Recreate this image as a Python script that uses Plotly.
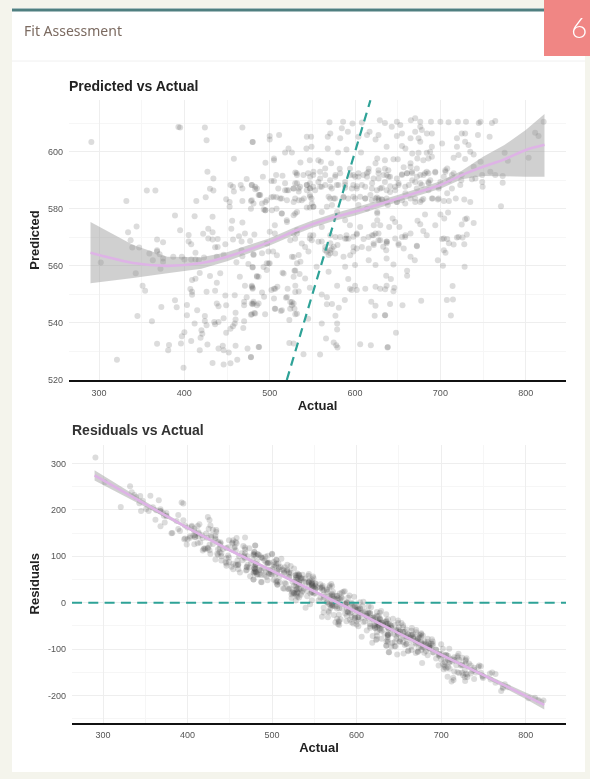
import plotly.graph_objects as go

actual = [
291,393,395,424,468,426,480,458,427,434,356,366,332,414,425,430,434,449,453,453,454,457,458,466,468,473,479,483,468,478,481,478,487,
389,412,433,456,468,344,334,395,428,433,455,405,422,471,464,482,337,368,375,405,408,428,433,439,448,457,467,339,347,436,439,368,477,
359,368,371,375,375,363,387,397,400,408,413,413,417,423,438,446,461,467,468,475,481,480,302,343,372,418,430,442,465,485,409,413,438,471,479,480,351,354,407,409,409,426,436,448,459,473,470,470,481,480,487,389,373,391,403,415,438,440,449,460,478,482,345,403,424,424,426,446,362,412,435,440,436,460,459,457,454,470,469,420,421,419,449,400,397,368,382,381,396,408,427,418,440,445,446,452,460,474,487,478,462,321,433,446,454,399,
480,500,500,511,543.5,548.5,570,586,597,608,617,629,635,584.5,591.6,571,568,582.6,604,614,624,627.5,522,518,526,543,549,568,580,590,607,505,505,495,536,547,557,560,572,626,624,635,582,594,616,614,627.5,635,492,507.5,515,530,545,551,559,565,502,505,518,510,532,534,534,543.5,547,547,551,557,561,571,577,580.6,588.4,598,604,598,602,608,614,620,627.5,635,629.5,637,479,485,522,518,543.5,547,549,565,569,575,586.5,592,598,606,612,618,624,627.5,631.5,488,479,495,491,502,508,514,508,495,493,534,528,540,547,551,543.5,567,561,579,573,604,614,626,514,520,528,532,506,500,506,528,532,561,551,588.4,594,606,626,626,622,629.5,571,577,590,602,620,624,
547,561,571,575,565,571,579.4,590,598,610,622,633,627.5,637,602,616,491,498.5,504,481,496.5,500,526,534,536,532,545.4,569,586.5,571,598,616,600,624,588.4,480,555,496.5,515,529,535,528,541.5,569,592,485,487,479,480,509,505,502,521,530,534,547,579,594,600,602,612,624,629.5,637,596,491,493.4,505,519,485,481,479,561,567,588,528,526,567,573,581,619,624,506,513,524,529,494.6,483,479,530,545,523,577,623,635,561,579,579,566,523,528,575,578,579.4,606,618.5,638,487.6,539.6,559,478,
649,653,665.4,670.5,676.4,689,700,709.6,720.5,730,745,747,760.4,764.3,821,811,815,643,655,649,665,676.4,678.3,670.5,684.2,690,674.4,676.4,719.4,725,729,744,757.7,702,690,719.4,729,733,637,655,659,735,739,667,674.4,684,688,690,680,673,665,686,645,650,715.5,721.3,729,747,775.3,779,803.4,657,665,672.4,694,708,684,739,639,637,641,655,661,667,676.4,682,686,715.5,706,704,725,741,749,758.5,764.3,773,651,647,663,667,676.4,686,700,710,724.5,737,749,749.5,773,641,647,659,672.4,686,698,713.5,723.3,708,637,655,665,680,691,697,704,710,718,728,735,670.5,676.4,649,638.4,771,682,700,709,704.5,644,647,673.2,676.4,731,729,739,694,725,640,652,680,684,659,665,704,721.3,731,655,647,
637,651,657,672.4,702,708,710,715.5,719.4,726,728,704,706,636.5,637,665,670,697,703,728.4,645,661,661,636.5,642,714.3,646,645,635.3,677.5,707.6,714.7,641,655.6,635.3,712.3,648,638.4,
531.7,539.5,547.4,551.3,559.1,565,570.8,576.7,582.6,588.4,594.3,600.1,604,609.9,615.8,621.7,627.5,633.4,639.2,649,654.9,660.8,666.6,672.5,680.3,688.1,694,705.7,713.5,
527.8,535.6,543.5,547.4,553.2,559.1,572.8,578.6,588.4,596.2,602.1,611.9,619.7,625.6,631.4,641.2,651,658.8,670.5,678.3,686.2,697.9,
529.8,537.6,547.4,549.3,551.3,570.8,576.7,586.5,600.1,611.9,619.7,625.6,627.5,631.4,637.3,649,658.8,670.5,678.3,690,697.9,
529.8,537.6,541.5,547.4,549.3,557.1,565,566.9,572.8,576.7,582.6,588.4,594.3,592.3,602.1,598.2,608,615.8,621.7,627.5,629.5,621.7,637.3,651,658.8,672.5,
483,488.9,496.7,504.5,512.3,520.2,528,531.9,529.9,520.2,494.7,502.6,514.3,520.2,529.9,531.9,524.1,496.7,508.4,498.7,492.8,506.5,520.2,529.9,526,531.9,506.5,514.3,524.1,529.9,516.3,528,
]
predicted = [
603.4,608.6,608.5,608.5,608.5,604,603.4,597.5,593,590.6,586.4,586.4,582.7,582.7,584,587,586.4,583.3,582.4,580.7,588.3,587.7,586,588.3,587.1,590.4,588.3,586.8,582.7,582.7,581.8,580,584.8,
577.6,577.4,577.2,575.8,575.2,573.8,571.8,572.5,573,571.8,573,570.8,571.2,571.3,570.4,571,569,569.2,568.3,568.5,567.6,569.6,569.2,569.4,567.6,569.2,568.5,566.4,566.4,566.5,566.6,565.5,568.7,
564.3,565,564.1,562.6,561.4,562,563.2,563.2,562.2,562.2,564.6,562.2,562,562.9,563.2,563.9,561.3,565.5,563.4,560.6,564.1,559.6,561.2,557.4,559,557.5,556.4,557.4,556.2,556.4,555,555.5,554.1,553,553,552,553,551.3,551.9,550.9,549.9,550.9,551.3,549.6,549.7,549,547.4,546.2,547.4,546.5,546.8,547.9,545.6,545.5,546.3,544.4,546.8,545.8,546.2,543.6,542.9,543.5,542.4,542.7,542.4,540.7,539.2,541.6,540.6,539.8,540.3,540.3,539.5,541.2,539.8,538.8,538,540.6,538.2,537.4,536.2,534.8,536.6,536.7,535.3,532.7,532.3,530.4,532.8,533.7,532.4,530.4,531,532,530.4,529.6,532,531,531.6,528,527.1,527.1,526,525.4,525.9,524.3,
603.4,605.5,604.3,605.8,605.2,605.2,610.3,610.5,609.9,610.2,607,611,610,608.2,607,606.4,605.2,604.7,605.2,605.8,604.3,605.8,601.1,599.7,599.7,601.1,601.7,601.1,599.7,600.8,599.7,597,597.6,596.1,596.2,597,597,596.5,595.9,597.6,595.9,597,594,594,594,592.4,593.5,594,591.2,591.8,591.6,592.7,592.4,591.8,593,594.1,589.7,589.7,588.9,587.1,588.9,587.1,586,588.3,588.9,587.1,587.7,589.4,587.7,587.7,591.8,588.3,588.3,591.8,591.2,588.3,587.1,588.3,591.2,588.9,590.6,589.4,587.1,586.5,588.3,587.1,586.5,586.5,586.5,584.8,583.6,588.3,584.2,583.6,584.2,583.6,584.2,584.2,583.6,584.8,583.6,583.6,583.2,584.8,583,582.4,581.8,584,584,583.6,580,579.5,579.7,583,582.4,583.6,580.4,580.7,580.4,580.7,578.9,578.9,581.3,581.3,580,578.9,578.3,576,577.7,578.9,574.2,571.9,571.3,571.3,572.5,573.6,570.7,576,574.2,573.6,578.3,576,574.2,574.2,570.7,570.1,570.7,571,570.7,571.3,
569.6,568.5,567.9,566.7,565.5,565.5,567.3,569.6,570.2,569.4,567.3,566.7,569,567.9,566.1,566.1,564.4,565,565,563.8,560.9,560.9,563.2,563.8,561.4,560.9,565,563.8,563.2,564.4,565,562,560.3,560.3,559.7,559.4,559.7,558.5,557.6,558.3,557.1,556.2,555.6,557.9,555.4,556.2,556.2,552.7,552.3,552.7,552,551.5,552,553,551,552.3,553,552,553,551.5,552,552.7,552,553,551.5,550.7,549.2,548.6,548.8,546.2,546.8,546.8,550,549,548,546.8,546.2,546.5,546.6,545.3,547.4,546,545,544.2,545,545,543,543.3,543,543,541.5,541,542.5,542.5,542.7,539.8,539.8,537.7,534.5,533,532.8,533.1,532.2,531.4,532.5,532.2,531.4,531.6,529,528.9,528.1,
610.5,609.3,611,611.7,610.5,610.5,610.5,610.3,610.5,610.5,610,610.5,610,610.7,610.5,606.6,605.5,608.7,606.4,605.5,604.7,608.7,607.6,607,606.4,606.4,604.7,603.5,604.7,606.4,606.4,605.8,605.2,602.9,601.7,601.7,603.5,602.3,601.7,602,601.1,600,599,599.4,599.6,599.6,600,598.2,597,597.6,595.9,597.6,597.3,597.3,597.9,598.8,597.4,596.5,599.6,596.8,597.9,594.5,594.7,594.1,592.7,594.1,593,594.7,593.5,591.8,591.2,592.1,592.4,592.4,591.8,592.4,592.4,592.4,593,591.2,591.8,590.6,591.8,593,591.8,591.5,588.9,587.7,588.3,590,588.9,589.4,589.4,590,590,590.3,589.4,587.7,589.1,585.9,586.5,585.4,587.1,586.5,587.1,587.1,588.3,585.4,583.6,583,583.6,583.4,583.6,583.2,582.7,582.7,583.6,583.2,582.4,583.6,582.4,582.4,581.3,580.9,578,578,578.7,576.6,576.6,575.4,575.8,574.6,576.6,576.3,575,574.2,574.5,573.6,573.6,572.2,570.7,570.7,571.3,569.6,570.1,571,570.1,569.6,
568.5,567.3,566.1,567,569.4,569.4,567.9,567.5,569.9,569.9,567.6,565.5,564.6,565.5,562.6,563.2,562,562,560,559.7,560.5,558.3,556.5,556.5,555.4,552.9,552.3,551.1,551.8,547.8,548,548.2,546.6,546.2,542.7,542.6,536.6,531.6,
592.4,591.8,591.2,593,590.6,591.8,590,591.2,592.4,589.4,591.8,591.2,592.4,591.8,593,590.6,592.4,591.8,591.2,590.6,591.8,592.4,593,591.2,591.8,590,593,593.5,591.8,
587.1,587.7,588.3,587.1,586.5,587.7,587.1,588.3,587.4,587.1,587.9,587.7,587.1,586.5,587.4,587.9,588.3,587.7,589.4,588.3,588.9,587.7,
583.6,583,584.2,581.8,580.7,583.6,583.6,583.9,583.6,583.6,583,583.9,583,583.2,582.4,582.4,581.8,582.4,583,583.6,583.6,
569.5,567.8,566.6,570.7,569,568.4,566.6,564.9,566,564.3,570.1,569.5,563.7,569.5,571.3,566.6,566.6,570.1,570.7,571.3,569,567.8,568.4,567.8,570.1,566.9,
587.7,584.8,583,584.2,583.6,583,587.1,591.8,588.9,586.5,579.5,579.5,578.3,575.4,578.3,571.3,569,567.8,563.7,560.8,559.6,552,549.1,550.8,547.3,543.2,545,544.4,547.3,558.4,557.3,563.1,
]
n = min(len(actual), len(predicted))
actual, predicted = actual[:n], predicted[:n]
residuals = [p - a for p, a in zip(predicted, actual)]

# Smooth line and its band, upper panel
smooth_x = [290, 340, 380, 420, 450, 500, 530, 550, 575, 600, 650, 700, 725, 750, 775, 800, 822]
smooth_y = [564.6, 561, 560, 561, 563.2, 568.4, 572.3, 574.6, 577, 579, 583.6, 588.3, 591.8, 594.7, 597.3, 600.6, 602.4]
smooth_lo = [553.9, 555.7, 557.4, 559, 561.6, 567.1, 571, 573.3, 575.7, 577.6, 582.4, 587, 590.3, 591.5, 591.4, 591.2, 591.2]
smooth_hi = [575.4, 567.3, 563.2, 563, 564.8, 569.7, 573.6, 575.9, 578.3, 580.4, 584.8, 589.6, 593.3, 598.2, 602.3, 607.6, 613.2]

# Smooth line and its band, lower panel
resid_x = [290, 350, 400, 450, 500, 550, 600, 650, 700, 750, 800, 822]
resid_y = [274, 212, 161, 113, 69, 24, -20, -66, -112, -156, -200, -220]
resid_lo = [263, 206, 158, 110, 66, 21, -23, -69, -115, -160, -207, -230]
resid_hi = [285, 218, 164, 116, 72, 27, -17, -63, -109, -152, -193, -210]

identity = [520, 618]
zero_x = [263.3, 847.7]
zero_y = [0, 0]

x_ticks = [300, 400, 500, 600, 700, 800]
pred_ticks = [520, 540, 560, 580, 600]
resid_ticks = [-200, -100, 0, 100, 200, 300]
resid_tick_text = ["-200", "-100", "0", "100", "200", "300"]

W, H = 590, 779
VS = 1.0065  # vertical correction found by comparing renders with the reference
TEAL = "#2ea297"
MAUVE = "#deb3e6"
BAND = "rgba(150,150,150,0.45)"
DOT = dict(size=6, color="rgba(70,70,70,0.19)", line=dict(width=0))
GRID = "#eeeeee"
MINOR = "#f6f6f6"
TICKF = dict(family="Liberation Sans", size=9, color="#555555")
TITLEF = dict(family="Liberation Sans", size=13, color="#222222", weight="bold")


def py(v):
    return 1 - v * VS / H


def band(x, lo, hi, xa, ya):
    return go.Scatter(x=x + x[::-1], y=hi + lo[::-1], fill="toself", fillcolor=BAND, mode="none",
                      hoverinfo="skip", showlegend=False, xaxis=xa, yaxis=ya)


fig = go.Figure()
fig.add_trace(go.Scatter(x=actual, y=predicted, mode="markers", marker=DOT, showlegend=False, xaxis="x", yaxis="y"))
fig.add_trace(go.Scatter(x=identity, y=identity, mode="lines", showlegend=False, line=dict(color=TEAL, width=2.2, dash="9px,6px"), xaxis="x", yaxis="y"))
fig.add_trace(band(smooth_x, smooth_lo, smooth_hi, "x", "y"))
fig.add_trace(go.Scatter(x=smooth_x, y=smooth_y, mode="lines", showlegend=False, line=dict(color=MAUVE, width=2.6, shape="spline", smoothing=0.7), xaxis="x", yaxis="y"))

fig.add_trace(go.Scatter(x=actual, y=residuals, mode="markers", marker=DOT, showlegend=False, xaxis="x2", yaxis="y2"))
fig.add_trace(go.Scatter(x=zero_x, y=zero_y, mode="lines", showlegend=False, line=dict(color=TEAL, width=2.2, dash="10px,6.3px"), xaxis="x2", yaxis="y2"))
fig.add_trace(band(resid_x, resid_lo, resid_hi, "x2", "y2"))
fig.add_trace(go.Scatter(x=resid_x, y=resid_y, mode="lines", showlegend=False, line=dict(color=MAUVE, width=2.6), xaxis="x2", yaxis="y2"))


def xax(rng, left, anchor, title, standoff):
    return dict(domain=[left / W, 566 / W], range=rng, anchor=anchor, tickvals=x_ticks, tickfont=TICKF,
                showgrid=True, gridcolor=GRID, gridwidth=1, zeroline=False, showline=True, linecolor="#111111",
                linewidth=1.5, ticks="", ticklabelstandoff=3, minor=dict(dtick=50, showgrid=True, gridcolor=MINOR, gridwidth=1),
                title=dict(text=title, font=TITLEF, standoff=standoff))


def yax(rng, top, bottom, anchor, vals, text, title, standoff):
    return dict(domain=[py(bottom), py(top)], range=rng, anchor=anchor, tickvals=vals, ticktext=text, tickfont=TICKF,
                showgrid=True, gridcolor=GRID, gridwidth=1, zeroline=False, showline=False, ticks="", ticklabelstandoff=5,
                minor=dict(dtick=(vals[1] - vals[0]) / 2, showgrid=True, gridcolor=MINOR, gridwidth=1),
                title=dict(text=title, font=TITLEF, standoff=standoff))


fig.update_layout(
    width=W, height=H, margin=dict(l=0, r=0, t=0, b=0), paper_bgcolor="#f4f4ec", plot_bgcolor="rgba(0,0,0,0)",
    showlegend=False,
    xaxis=xax([264.8, 847.2], 69, "y", "Actual", 4),
    yaxis=yax([520, 618.1], 100, 380, "x", pred_ticks, [str(v) for v in pred_ticks], "Predicted", 5),
    xaxis2=xax([263.3, 847.7], 72, "y2", "Actual", 4),
    yaxis2=yax([-257.9, 339.5], 445, 722.5, "x2", resid_ticks, resid_tick_text, "Residuals", 5),
    shapes=[
        dict(type="rect", xref="paper", yref="paper", x0=12 / W, x1=585 / W, y0=py(772), y1=py(8), fillcolor="#ffffff", line=dict(width=0), layer="below"),
        dict(type="rect", xref="paper", yref="paper", x0=12 / W, x1=585 / W, y0=py(11.5), y1=py(8.5), fillcolor="#4f7f80", line=dict(width=0), layer="below"),
        dict(type="line", xref="paper", yref="paper", x0=12 / W, x1=585 / W, y0=py(61), y1=py(61), line=dict(color="#f0f0f0", width=1), layer="below"),
        dict(type="rect", xref="paper", yref="paper", x0=544 / W, x1=1, y0=py(56), y1=1, fillcolor="#f08684", line=dict(width=0), layer="below"),
    ],
    annotations=[
        dict(text="Fit Assessment", x=22 / W, y=py(30), xref="paper", yref="paper", xanchor="left", yanchor="middle", showarrow=False, font=dict(family="Noto Sans", size=14, color="#7b6a60")),
        dict(text="6", x=579 / W, y=py(27), xref="paper", yref="paper", xanchor="center", yanchor="middle", showarrow=False, font=dict(family="Lato", size=28, color="#ffffff", weight=300)),
        dict(text="Predicted vs Actual", x=67 / W, y=py(86), xref="paper", yref="paper", xanchor="left", yanchor="middle", showarrow=False, font=dict(family="Liberation Sans", size=14, color="#222222", weight="bold")),
        dict(text="Residuals vs Actual", x=70 / W, y=py(430), xref="paper", yref="paper", xanchor="left", yanchor="middle", showarrow=False, font=dict(family="Liberation Sans", size=14, color="#333333", weight="bold")),
    ],
)

fig.write_html(
    "out.html",
    config={"displayModeBar": False, "responsive": False},
    default_width="590px",
    default_height="779px",
    post_script="document.body.style.margin='0';document.documentElement.style.overflow='hidden';document.querySelector('.plotly-graph-div').style.filter='blur(0.6px)';",
)
